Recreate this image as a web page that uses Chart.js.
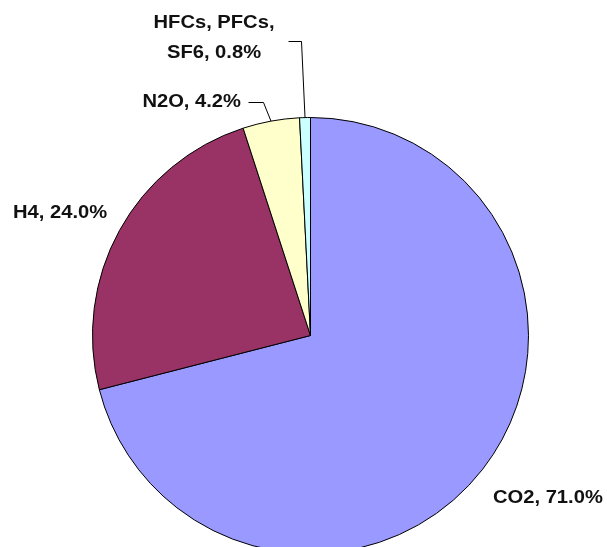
<!DOCTYPE html>
<html>
<head>
<meta charset="utf-8">
<script src="https://cdn.jsdelivr.net/npm/chart.js@4/dist/chart.umd.min.js"></script>
<style>
  html, body { margin: 0; padding: 0; background: #fff; overflow: hidden; }
  #wrap { position: relative; width: 607px; height: 680px; }
</style>
</head>
<body>
<div id="wrap"><canvas id="gasChart"></canvas></div>
<script>
// greenhouse gas shares, clockwise from 12 o'clock
const gasNames = ["CO2", "H4", "N2O", "HFCs, PFCs, SF6"];
const gasShares = [71.0, 24.0, 4.2, 0.8];
const sliceColors = ["#9999ff", "#993366", "#ffffcc", "#ccffff"];

// where each label sits (Excel-ish placement)
const labelSpots = [
    { x: 493, y: 498, align: "left" },
    { x: 13, y: 213, align: "left" },
    { x: 241, y: 102, align: "right", leader: [[248, 102], [263, 102]] },
    { x: 214, y: 23, align: "center", lines: ["HFCs, PFCs,", "SF6, 0.8%"], gap: 30, leader: [[288, 41], [301, 41]] },
];

const pieLabels = {
    id: "pieLabels",
    afterDatasetsDraw(chart) {
        const ctx = chart.ctx;
        const arcs = chart.getDatasetMeta(0).data;
        ctx.save();
        ctx.font = "bold 18px 'Liberation Sans', Arial, sans-serif";
        ctx.fillStyle = "#111";
        ctx.strokeStyle = "#000";
        ctx.lineWidth = 1;
        ctx.textBaseline = "middle";

        arcs.forEach(function (arc, i) {
            let spot = labelSpots[i];
            let text = gasNames[i] + ", " + gasShares[i].toFixed(1) + "%";
            let lines = spot.lines || [text];

            lines.forEach(function (line, k) {
                ctx.save();
                ctx.translate(spot.x, spot.y + k * (spot.gap || 0));
                ctx.scale(1.12, 1);
                ctx.textAlign = spot.align;
                ctx.fillText(line, 0, 0);
                ctx.restore();
            });

            if (spot.leader) {
                // end the leader on the rim at the middle of the slice
                let mid = (arc.startAngle + arc.endAngle) / 2;
                let ex = arc.x + Math.cos(mid) * arc.outerRadius;
                let ey = arc.y + Math.sin(mid) * arc.outerRadius;
                ctx.beginPath();
                ctx.moveTo(spot.leader[0][0] + 0.5, spot.leader[0][1] + 0.5);
                for (let p = 1; p < spot.leader.length; p++) {
                    ctx.lineTo(spot.leader[p][0] + 0.5, spot.leader[p][1] + 0.5);
                }
                ctx.lineTo(ex, ey);
                ctx.stroke();
            }
        });
        ctx.restore();
    },
};

new Chart(document.getElementById("gasChart"), {
    type: "pie",
    data: {
        labels: gasNames,
        datasets: [
            {
                data: gasShares,
                backgroundColor: sliceColors,
                borderColor: "#000",
                borderWidth: 1,
            },
        ],
    },
    options: {
        responsive: true,
        maintainAspectRatio: false,
        animation: false,
        layout: {
            padding: { left: 92, right: 78, top: 117, bottom: 126 },
        },
        plugins: {
            legend: { display: false },
            tooltip: { enabled: false },
        },
    },
    plugins: [pieLabels],
});
</script>
</body>
</html>
